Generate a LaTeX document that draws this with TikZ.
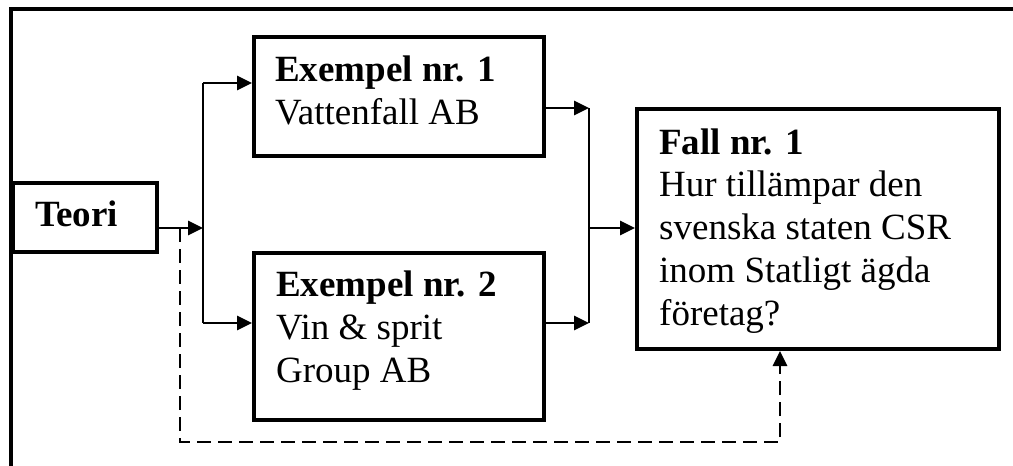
\documentclass[tikz,border=0pt]{standalone}
\usepackage{fontspec}
\setmainfont{Liberation Serif}
\usetikzlibrary{arrows.meta}
\tikzset{
  box/.style={draw, line width=4pt, rectangle, inner sep=0pt, anchor=north west},
  lbl/.style={inner sep=0pt, anchor=base west, align=left, font=\fontsize{37}{42.7}\selectfont},
  arr/.style={line width=2.8pt, -{Triangle[length=15pt,width=14pt]}},
  ln/.style={line width=2.8pt},
  dsh/.style={line width=2.8pt, dash pattern=on 14pt off 7pt},
}
\begin{document}
\begin{tikzpicture}[x=1pt,y=-1pt]
\useasboundingbox (0,0) rectangle (1013,466);
% outer frame (top and left only)
\draw[line width=4pt] (1013,8.5) -- (10.5,8.5) -- (10.5,466);
% boxes
\node[box, minimum width=144pt, minimum height=69pt] (teori) at (11,181) {};
\node[box, minimum width=290pt, minimum height=119pt] (ex1) at (252,35) {};
\node[box, minimum width=290pt, minimum height=167pt] (ex2) at (252,251) {};
\node[box, minimum width=362pt, minimum height=240pt] (fall) at (635,107) {};
% texts (anchor = baseline of last line)
\node[lbl] (teorit) at (35,226) {\textbf{Teori}};
\node[lbl] (ex1t) at (275,124) {\textbf{Exempel nr. 1}\\Vattenfall AB};
\node[lbl] (ex2t) at (276,382) {\textbf{Exempel nr. 2}\\Vin \& sprit\\Group AB};
\node[lbl] (fallt) at (659,325) {\textbf{Fall nr. 1}\\Hur tillämpar den\\svenska staten CSR\\inom Statligt ägda\\företag?};
% junctions
\coordinate (j1) at (203,228);
\coordinate (j1t) at (203,83);
\coordinate (j1b) at (203,323);
\coordinate (j2) at (589,228);
\coordinate (j2t) at (589,108);
\coordinate (j2b) at (589,323);
\coordinate (d0) at (180,228);
\coordinate (d1) at (180,442);
\coordinate (d2) at (780,442);
\coordinate (d3) at (780,366);
% connectors
\draw[arr] (teori.east |- j1) -- (j1);
\draw[ln] (j1t) -- (j1b);
\draw[arr] (j1t) -- (ex1.west |- j1t);
\draw[arr] (j1b) -- (ex2.west |- j1b);
\draw[arr] (ex1.east |- j2t) -- (j2t);
\draw[arr] (ex2.east |- j2b) -- (j2b);
\draw[ln] (j2t) -- (j2b);
\draw[arr] (j2) -- (fall.west |- j2);
\draw[dsh] (d0) -- (d1) -- (d2) -- (d3);
\draw[arr] (d3) -- (d3 |- fall.south);
\end{tikzpicture}
\end{document}
